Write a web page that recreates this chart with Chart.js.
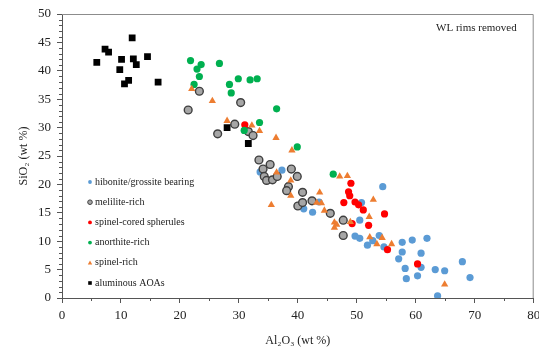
<!DOCTYPE html>
<html>
<head>
<meta charset="utf-8">
<script src="https://cdn.jsdelivr.net/npm/chart.js@4.4.0/dist/chart.umd.min.js"></script>
<style>
html,body{margin:0;padding:0;background:#fff;}
#wrap{position:relative;width:539px;height:350px;}
</style>
</head>
<body>
<div id="wrap"><canvas id="c" width="539" height="350"></canvas></div>
<script>
// ---- data (Al2O3 wt%, SiO2 wt%) ----
const seriesNames = ["hibonite/grossite bearing","melilite-rich","spinel-cored spherules","anorthite-rich","spinel-rich","aluminous AOAs"];
const hiboniteAl = [33.6,37.3,41.0,42.5,43.6,50.5,54.4,50.8,49.7,50.5,51.8,52.7,53.8,54.6,57.7,59.4,61.9,57.7,60.9,57.1,58.2,58.4,60.3,60.9,63.3,64.9,67.9,69.2,63.7];
const hiboniteSi = [22.2,22.5,15.7,15.1,16.9,13.7,19.6,16.8,10.9,10.5,9.3,10.1,11.0,9.0,9.8,10.2,10.5,8.1,7.9,6.9,5.2,3.4,3.9,5.4,5.0,4.8,6.4,3.6,0.4];
const meliliteAl = [23.3,21.4,30.3,29.3,26.4,31.6,32.4,33.4,34.1,35.3,34.3,34.7,35.7,36.5,38.9,39.9,38.4,38.1,40.8,40.0,40.8,42.4,45.5,47.7,47.7];
const meliliteSi = [36.4,33.1,34.4,30.6,28.9,29.3,28.6,24.3,22.7,23.5,21.4,20.7,20.8,21.4,22.7,21.4,19.6,18.9,18.6,16.2,16.8,17.1,14.9,13.7,11.0];
const spheruleAl = [31.0,49.0,48.6,48.8,47.8,49.7,50.3,51.1,54.7,52.0,49.2,55.2,60.3];
const spheruleSi = [30.5,20.2,18.7,18.0,16.8,16.9,16.4,15.5,14.8,12.8,13.1,8.5,6.0];
const anorthiteAl = [21.8,23.6,22.9,26.7,23.3,22.4,28.4,29.9,31.9,33.1,28.7,36.4,33.5,30.9,39.9,46.0];
const anorthiteSi = [41.8,41.1,40.3,41.3,39.0,37.6,37.6,38.6,38.4,38.6,36.1,33.3,30.9,29.5,26.6,21.8];
const spinelAl = [22.0,25.5,28.0,32.2,33.5,36.3,39.0,36.4,38.8,38.8,35.5,43.7,43.2,44.0,44.5,46.2,46.2,46.6,47.1,48.4,48.9,52.8,52.1,52.2,54.3,53.4,55.9,64.9];
const spinelSi = [36.8,34.7,31.2,30.4,29.4,28.2,26.0,22.1,20.7,18.0,16.4,18.6,16.8,16.7,15.4,13.3,12.4,12.9,21.4,21.5,13.4,17.3,14.3,10.7,10.6,9.5,9.5,2.4];
const aoaAl = [11.9,7.3,7.9,5.9,10.1,12.1,12.6,14.5,9.8,11.3,10.6,16.3,28.0,31.6];
const aoaSi = [45.8,43.8,43.3,41.5,42.0,42.1,41.1,42.5,40.2,38.3,37.7,38.0,30.0,27.2];
const xTicks = [0,10,20,30,40,50,60,70,80];
const yTicks = [0,5,10,15,20,25,30,35,40,45,50];
const note = "WL rims removed";
const xTitle = "Al\u2082O\u2083 (wt %)";
const yTitle = "SiO\u2082 (wt %)";

const pts = (xs, ys) => xs.map((v, i) => ({x: v, y: ys[i]}));
const FONT = "'Liberation Serif', 'Times New Roman', serif";

const styles = [
  {pointStyle:'circle', radius:3.6, bg:'#5B9BD5', border:'#5B9BD5', bw:0},
  {pointStyle:'circle', radius:3.9, bg:'#A6A6A6', border:'#3F3F3F', bw:1.4},
  {pointStyle:'circle', radius:3.6, bg:'#FF0000', border:'#FF0000', bw:0},
  {pointStyle:'circle', radius:3.6, bg:'#00B050', border:'#00B050', bw:0},
  {pointStyle:'triangle', radius:4.2, bg:'#ED7D31', border:'#ED7D31', bw:0},
  {pointStyle:'rect', radius:4.8, bg:'#000000', border:'#000000', bw:0}
];
const dataSets = [
  pts(hiboniteAl, hiboniteSi), pts(meliliteAl, meliliteSi), pts(spheruleAl, spheruleSi),
  pts(anorthiteAl, anorthiteSi), pts(spinelAl, spinelSi), pts(aoaAl, aoaSi)
];

const datasets = dataSets.map((d, i) => ({
  label: seriesNames[i],
  data: d,
  pointStyle: styles[i].pointStyle,
  pointRadius: styles[i].radius,
  pointHoverRadius: styles[i].radius,
  backgroundColor: styles[i].bg,
  borderColor: styles[i].border,
  pointBorderWidth: styles[i].bw,
  borderWidth: styles[i].bw,
  showLine: false,
  order: 6 - i
}));

const decor = {
  id: 'decor',
  beforeDatasetsDraw(chart) {
    const {ctx, chartArea: a} = chart;
    ctx.save();
    ctx.strokeStyle = '#8c8c8c';
    ctx.lineWidth = 1;
    ctx.beginPath();
    ctx.moveTo(a.left, a.top + 0.5);
    ctx.lineTo(a.right - 0.5, a.top + 0.5);
    ctx.lineTo(a.right - 0.5, a.bottom);
    ctx.stroke();
    ctx.restore();
  },
  afterDraw(chart) {
    const {ctx, chartArea: a, scales: {x, y}} = chart;
    ctx.save();
    ctx.strokeStyle = '#555';
    ctx.lineWidth = 1;
    ctx.beginPath();
    for (let v = y.min; v <= y.max; v += 1) {
      if (v % 5 === 0) continue;
      const py = Math.round(y.getPixelForValue(v)) + 0.5;
      ctx.moveTo(a.left - 3, py); ctx.lineTo(a.left, py);
    }
    for (let v = x.min + 5; v < x.max; v += 10) {
      const px = Math.round(x.getPixelForValue(v)) + 0.5;
      ctx.moveTo(px, a.bottom); ctx.lineTo(px, a.bottom + 3);
    }
    ctx.stroke();
    // note
    ctx.fillStyle = '#222';
    ctx.font = "11px " + FONT;
    ctx.textAlign = 'right';
    ctx.textBaseline = 'middle';
    ctx.fillText(note, a.right - 17, a.top + 14);
    // legend
    ctx.font = "10px " + FONT;
    ctx.textAlign = 'left';
    const lx = a.left + 28, ly0 = a.top + 168;
    chart.data.datasets.forEach((ds, i) => {
      const cy = ly0 + i * 20.2;
      const s = styles[i];
      ctx.fillStyle = s.bg;
      ctx.strokeStyle = s.border;
      ctx.lineWidth = 1;
      ctx.beginPath();
      if (s.pointStyle === 'circle') {
        ctx.arc(lx, cy, s.bw ? 2.3 : 1.9, 0, Math.PI * 2);
        ctx.fill();
        if (s.bw) ctx.stroke();
      } else if (s.pointStyle === 'rect') {
        ctx.fillRect(lx - 1.8, cy - 1.8, 3.6, 3.6);
      } else {
        ctx.moveTo(lx, cy - 2.2); ctx.lineTo(lx + 2.2, cy + 1.8); ctx.lineTo(lx - 2.2, cy + 1.8);
        ctx.closePath(); ctx.fill();
      }
      ctx.fillStyle = '#222';
      ctx.fillText(ds.label, lx + 5, cy);
    });
    ctx.restore();
  }
};

new Chart(document.getElementById('c'), {
  type: 'scatter',
  data: { datasets },
  options: {
    responsive: false,
    animation: false,
    events: [],
    layout: { padding: { left: 0, right: 5, top: 14, bottom: 0 } },
    plugins: { legend: { display: false }, tooltip: { enabled: false } },
    scales: {
      x: {
        type: 'linear', min: 0, max: 80,
        afterBuildTicks(s) { s.ticks = xTicks.map(v => ({value: v})); },
        afterFit(s) { s.height = 52; s.paddingLeft = 0; s.paddingRight = 0; },
        grid: { drawOnChartArea: false, drawTicks: true, tickLength: 5, color: '#555' },
        border: { display: true, color: '#555', width: 1 },
        ticks: { color: '#222', font: { family: FONT, size: 13 }, padding: 5, maxRotation: 0, autoSkip: false },
        title: { display: true, text: xTitle, color: '#222', font: { family: FONT, size: 12 }, padding: { top: 0, bottom: 2 } }
      },
      y: {
        type: 'linear', min: 0, max: 50,
        afterBuildTicks(s) { s.ticks = yTicks.map(v => ({value: v})); },
        afterFit(s) { s.width = 62; s.paddingTop = 0; s.paddingBottom = 0; },
        grid: { drawOnChartArea: false, drawTicks: true, tickLength: 5, color: '#555' },
        border: { display: true, color: '#555', width: 1 },
        ticks: { color: '#222', font: { family: FONT, size: 13 }, padding: 6, autoSkip: false },
        title: { display: true, text: yTitle, color: '#222', font: { family: FONT, size: 12 }, padding: { top: 17, bottom: 0 } }
      }
    }
  },
  plugins: [decor]
});
</script>
</body>
</html>
